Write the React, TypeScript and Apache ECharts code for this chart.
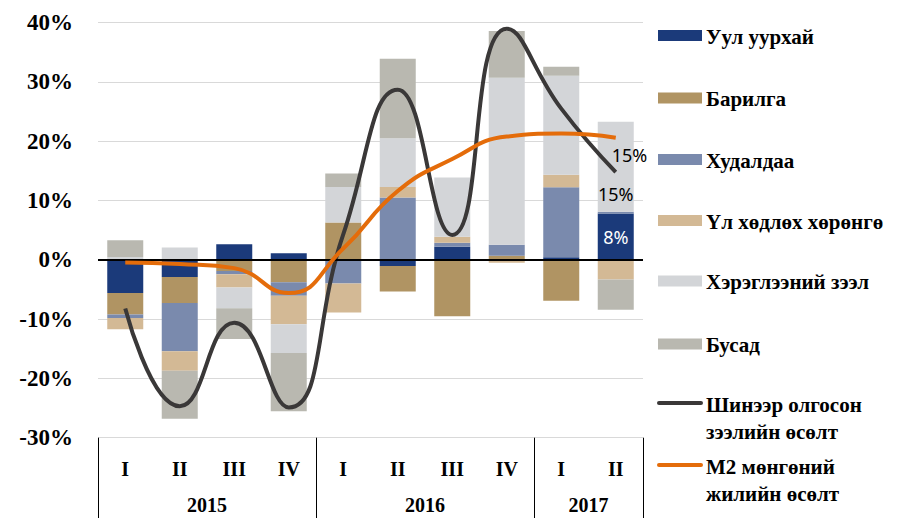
import React, { useEffect, useRef } from "react";
import * as echarts from "echarts";

const quarters = ["I", "II", "III", "IV", "I", "II", "III", "IV", "I", "II"];
const years = ["2015", "2016", "2017"];
const yearPos = [2, 6, 9];
const yearBounds = [0, 4, 8, 10];

const mining = [-5.6, -2.9, 2.65, 1.1, 0, -1.05, 2.2, 0, 0.45, 7.8];
const construction = [-3.6, -4.4, -1.9, -3.8, 6.3, -4.3, -9.5, 0.7, -6.9, 0];
const trade = [-0.6, -8.1, -0.55, -2.25, -4.0, 10.5, 0.7, 1.85, 11.8, 0.3];
const realEstate = [-1.9, -3.3, -2.2, -4.8, -4.9, 1.8, 1.0, -0.5, 2.1, -3.3];
const consumer = [0.5, 2.1, -3.5, -4.85, 6.0, 8.2, 10.0, 28.15, 16.7, 15.2];
const other = [2.8, -8.1, -5.2, -9.85, 2.25, 13.4, 0, 7.9, 1.5, -5.1];

const newLoans = [-8.2, -24.7, -10.6, -24.9, 4.3, 28.7, 4.2, 39.0, 25.5, 14.8];
const m2 = [-0.45, -0.7, -1.4, -5.6, 1.9, 11.6, 17.0, 20.8, 21.3, 20.6];

const barNames = [
  "Уул уурхай",
  "Барилга",
  "Худалдаа",
  "Үл хөдлөх хөрөнгө",
  "Хэрэглээний зээл",
  "Бусад",
];
const barColors = ["#1b3a7a", "#b09463", "#7a8aad", "#d3b995", "#d3d5d8", "#b9b8b0"];
const lineNames = [["Шинээр олгосон", "зээлийн өсөлт"], ["М2 мөнгөний", "жилийн өсөлт"]];
const lineColors = ["#3a3838", "#e46c0a"];

const serif = "'Liberation Serif', 'Times New Roman', serif";
const sans = "'Noto Sans', 'Liberation Sans', sans-serif";

export default function App() {
  const ref = useRef<HTMLDivElement>(null);
  useEffect(() => {
    if (!ref.current) return;
    const chart = echarts.init(ref.current, undefined, { renderer: "svg" });

    const barData = [mining, construction, trade, realEstate, consumer, other];
    const lastIdx = quarters.length - 1;
    const pct = (p: any) => Math.round(p.value) + "%";

    const barSeries: any[] = barData.map((arr, si) => ({
      name: barNames[si],
      type: "bar",
      stack: "total",
      barWidth: 36,
      xAxisIndex: 0,
      yAxisIndex: 0,
      itemStyle: { color: barColors[si] },
      data: arr.map((v, i) => {
        if (i === lastIdx && si === 0) {
          return {
            value: v,
            label: {
              show: true,
              position: "inside",
              color: "#fff",
              fontFamily: sans,
              fontSize: 18,
              formatter: pct,
            },
          };
        }
        if (i === lastIdx && si === 4) {
          return {
            value: v,
            label: {
              show: true,
              position: "insideBottom",
              distance: 9,
              color: "#000",
              fontFamily: sans,
              fontSize: 18,
              formatter: pct,
            },
          };
        }
        return v;
      }),
    }));

    const lineSeries: any[] = [
      {
        name: lineNames[0].join(" "),
        type: "line",
        smooth: 0.5,
        symbol: "circle",
        symbolSize: 0.1,
        showSymbol: true,
        z: 4,
        lineStyle: { color: lineColors[0], width: 4 },
        itemStyle: { color: lineColors[0] },
        labelLayout: { hideOverlap: false },
        data: newLoans.map((v, i) =>
          i === lastIdx
            ? {
                value: v,
                label: {
                  show: true,
                  position: [-4, -26],
                  color: "#000",
                  fontFamily: sans,
                  fontSize: 18,
                  formatter: pct,
                },
              }
            : v
        ),
        markLine: {
          silent: true,
          symbol: "none",
          label: { show: false },
          lineStyle: { color: "#000", width: 2, type: "solid" },
          data: [{ yAxis: 0 }],
        },
      },
      {
        name: lineNames[1].join(" "),
        type: "line",
        smooth: 0.5,
        symbol: "none",
        z: 5,
        lineStyle: { color: lineColors[1], width: 4 },
        itemStyle: { color: lineColors[1] },
        data: m2,
      },
    ];

    // Legend drawn with graphic elements
    const legendEls: any[] = [];
    const barLegendY = [35.5, 98, 159.5, 220.5, 281, 344];
    barNames.forEach((n, i) => {
      legendEls.push({
        type: "rect",
        shape: { x: 658, y: barLegendY[i] - 5.5, width: 44, height: 11 },
        style: { fill: barColors[i] },
      });
      legendEls.push({
        type: "text",
        x: 706,
        y: barLegendY[i] + 1,
        style: {
          text: n,
          fill: "#000",
          font: `bold 21px ${serif}`,
          textVerticalAlign: "middle",
        },
      });
    });
    const lineLegendY = [403, 465];
    lineNames.forEach((lines, i) => {
      legendEls.push({
        type: "line",
        shape: { x1: 659, y1: lineLegendY[i], x2: 701, y2: lineLegendY[i] },
        style: { stroke: lineColors[i], lineWidth: 4, lineCap: "round" },
      });
      lines.forEach((t, j) => {
        legendEls.push({
          type: "text",
          x: 706,
          y: lineLegendY[i] + 2 + j * 27,
          style: {
            text: t,
            fill: "#000",
            font: `bold 21px ${serif}`,
            textVerticalAlign: "middle",
          },
        });
      });
    });

    chart.setOption({
      animation: false,
      backgroundColor: "#fff",
      grid: {
        left: 98,
        right: 274,
        top: 22.7,
        bottom: 80.3,
        containLabel: false,
        outerBoundsMode: "none",
      } as any,
      xAxis: [
        {
          type: "category",
          data: quarters,
          position: "bottom",
          axisLine: { show: false },
          axisTick: { show: false },
          axisLabel: {
            color: "#000",
            fontFamily: serif,
            fontWeight: "bold",
            fontSize: 20,
            margin: 21,
          },
        },
        {
          type: "value",
          min: 0,
          max: 10,
          position: "bottom",
          axisLine: { show: false },
          splitLine: { show: false },
          axisTick: {
            show: true,
            customValues: yearBounds,
            length: 81,
            inside: false,
            lineStyle: { color: "#000", width: 1 },
          },
          axisLabel: {
            customValues: yearPos,
            formatter: (v: number) => years[yearPos.indexOf(v)] ?? "",
            color: "#000",
            fontFamily: serif,
            fontWeight: "bold",
            fontSize: 20,
            margin: 57,
          },
        },
      ],
      yAxis: {
        type: "value",
        min: -30,
        max: 40,
        interval: 10,
        axisLine: { show: false },
        axisTick: { show: false },
        splitLine: { lineStyle: { color: "#d9d9d9", width: 1 } },
        axisLabel: {
          formatter: "{value}%",
          color: "#000",
          fontFamily: serif,
          fontWeight: "bold",
          fontSize: 23,
          margin: 25,
        },
      },
      series: [...barSeries, ...lineSeries],
      graphic: legendEls,
    });

    return () => chart.dispose();
  }, []);

  return (
    <div
      ref={ref}
      style={{ position: "fixed", left: 0, top: 0, width: 917, height: 518, background: "#fff" }}
    />
  );
}
